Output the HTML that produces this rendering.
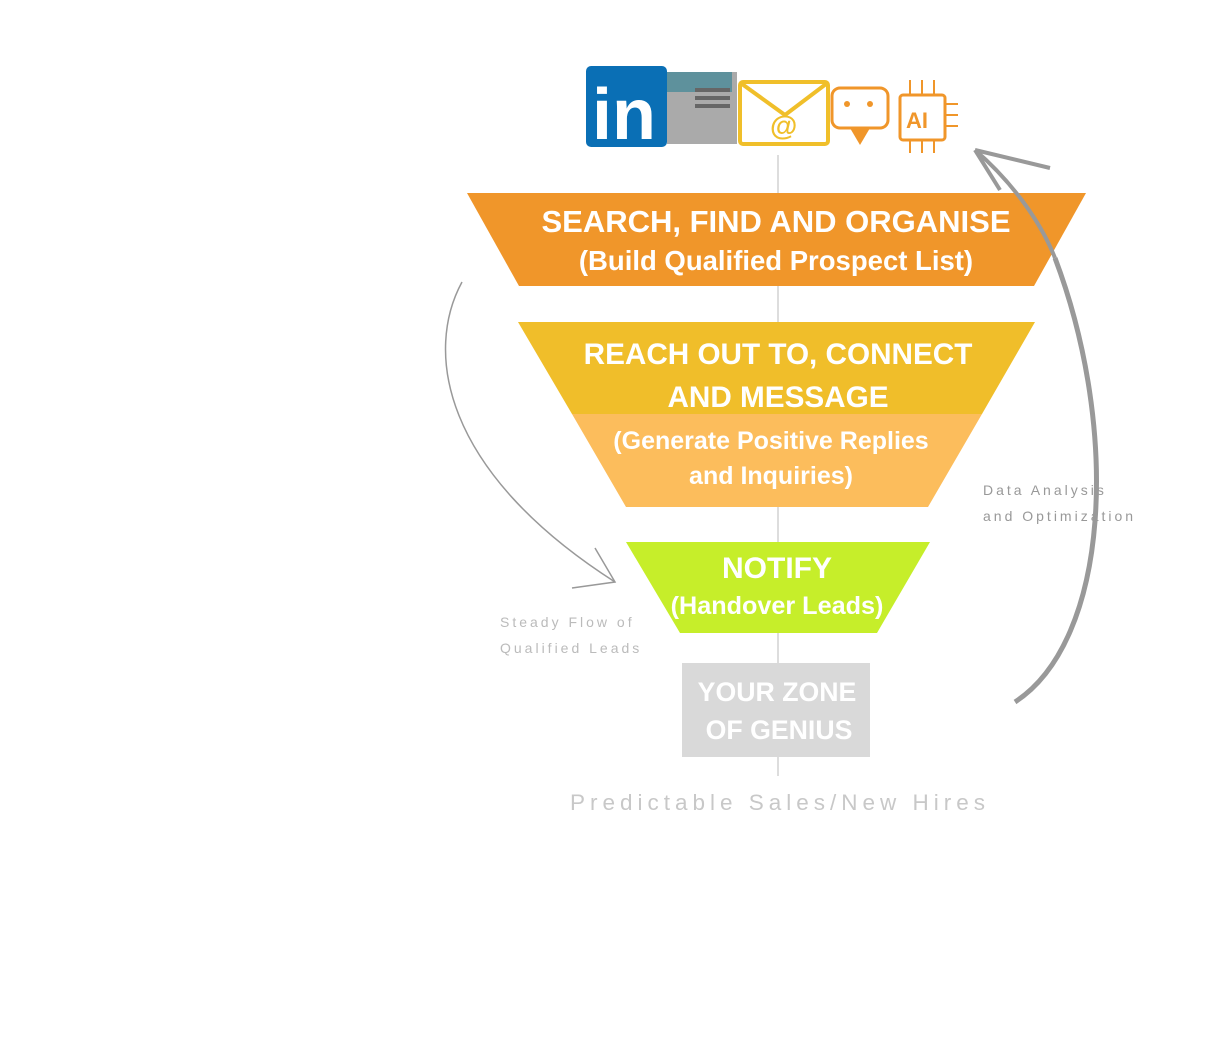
<!DOCTYPE html>
<html><head><style>
html,body{margin:0;padding:0;background:#fff;width:1206px;height:1056px;overflow:hidden}
svg{display:block}
text{font-family:"Liberation Sans",sans-serif}
</style></head><body>
<svg width="1206" height="1056" viewBox="0 0 1206 1056">
<line x1="778" y1="155" x2="778" y2="776" stroke="#bbb" stroke-width="1"/>
<!-- icons -->
<rect x="586" y="66" width="81" height="81" rx="5" fill="#0a6fb5"/>
<text x="592" y="139" font-size="72" font-weight="bold" fill="#fff">in</text>
<rect x="667" y="72" width="70" height="72" fill="#aaa"/>
<rect x="667" y="72" width="65" height="20" fill="#5e919c"/>
<rect x="695" y="88" width="35" height="4" fill="#666"/><rect x="695" y="96" width="35" height="4" fill="#666"/><rect x="695" y="104" width="35" height="4" fill="#666"/>
<rect x="740" y="82" width="88" height="62" rx="3" fill="#fff" stroke="#f0bf2a" stroke-width="4"/>
<polyline points="742,84 785,115 826,84" fill="none" stroke="#f0bf2a" stroke-width="4"/>
<text x="770" y="135" font-size="28" font-weight="bold" fill="#f0bf2a">@</text>
<rect x="832" y="88" width="56" height="40" rx="8" fill="#fff" stroke="#f0962a" stroke-width="3"/>
<polygon points="850,128 860,145 870,128" fill="#f0962a"/>
<circle cx="847" cy="104" r="3" fill="#f0962a"/><circle cx="870" cy="104" r="3" fill="#f0962a"/>
<rect x="900" y="95" width="45" height="45" rx="3" fill="#fff" stroke="#f0962a" stroke-width="3"/>
<text x="906" y="128" font-size="22" font-weight="bold" fill="#f0962a">AI</text>
<g stroke="#f0962a" stroke-width="2"><line x1="910" y1="80" x2="910" y2="95"/><line x1="922" y1="80" x2="922" y2="95"/><line x1="934" y1="80" x2="934" y2="95"/><line x1="910" y1="140" x2="910" y2="153"/><line x1="922" y1="140" x2="922" y2="153"/><line x1="934" y1="140" x2="934" y2="153"/><line x1="945" y1="104" x2="958" y2="104"/><line x1="945" y1="115" x2="958" y2="115"/><line x1="945" y1="126" x2="958" y2="126"/></g>
<!-- funnel -->
<polygon points="467,193 1086,193 1034,286 519,286" fill="#f0962a"/>
<text x="776" y="232" font-size="31" font-weight="bold" fill="#fff" text-anchor="middle">SEARCH, FIND AND ORGANISE</text>
<text x="776" y="270" font-size="27.5" font-weight="bold" fill="#fff" text-anchor="middle">(Build Qualified  Prospect List)</text>
<polygon points="518,322 1035,322 982,414 572,414" fill="#f0be2a"/>
<polygon points="572,414 982,414 928,507 626,507" fill="#fcbd5c"/>
<text x="778" y="364" font-size="29.7" font-weight="bold" fill="#fff" text-anchor="middle">REACH OUT TO, CONNECT</text>
<text x="778" y="407" font-size="29.7" font-weight="bold" fill="#fff" text-anchor="middle">AND MESSAGE</text>
<text x="771" y="449" font-size="25" font-weight="bold" fill="#fff" text-anchor="middle">(Generate Positive Replies</text>
<text x="771" y="484" font-size="25" font-weight="bold" fill="#fff" text-anchor="middle">and Inquiries)</text>
<polygon points="626,542 930,542 877,633 680,633" fill="#c6ee2a"/>
<text x="777" y="578" font-size="30" font-weight="bold" fill="#fff" text-anchor="middle">NOTIFY</text>
<text x="777" y="614" font-size="25.2" font-weight="bold" fill="#fff" text-anchor="middle">(Handover Leads)</text>
<rect x="682" y="663" width="188" height="94" fill="#d9d9d9"/>
<text x="777" y="701" font-size="26.7" font-weight="bold" fill="#fff" text-anchor="middle">YOUR ZONE</text>
<text x="779" y="739" font-size="26.7" font-weight="bold" fill="#fff" text-anchor="middle">OF GENIUS</text>
<text x="780" y="810" font-size="22.5" fill="#c8c8c8" text-anchor="middle" letter-spacing="5">Predictable Sales/New Hires</text>
<text x="500" y="627" font-size="14" fill="#bbb" letter-spacing="3">Steady Flow of</text>
<text x="500" y="653" font-size="14" fill="#bbb" letter-spacing="3">Qualified Leads</text>
<text x="983" y="495" font-size="14" fill="#999" letter-spacing="3">Data Analysis</text>
<text x="983" y="521" font-size="14" fill="#999" letter-spacing="3">and Optimization</text>
<!-- arrows -->
<path d="M462,282 C425,350 440,470 615,582" fill="none" stroke="#999" stroke-width="1.5"/>
<path d="M595,548 L615,582 L572,588" fill="none" stroke="#999" stroke-width="1.5"/>
<path d="M1015,702 C1110,640 1120,430 1055,258" fill="none" stroke="#999" stroke-width="5"/>
<path d="M1055,258 C1040,220 1010,180 975,150" fill="none" stroke="#999" stroke-width="4"/>
<path d="M975,150 L1050,168 M975,150 L1000,190" fill="none" stroke="#999" stroke-width="4"/>
</svg>
</body></html>
